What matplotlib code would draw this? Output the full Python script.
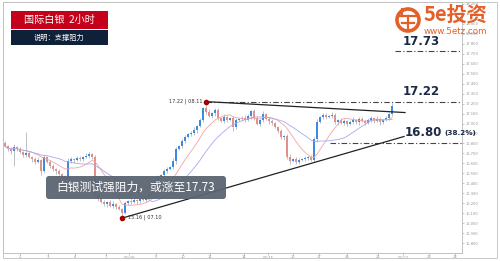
import matplotlib
matplotlib.use('Agg')
import matplotlib.pyplot as plt
from matplotlib.patches import FancyBboxPatch, Rectangle, Circle
from matplotlib.lines import Line2D
import numpy as np
import pandas as pd

plt.rcParams['font.family'] = ['Noto Sans CJK SC', 'DejaVu Sans']

# 2h candles, close prices
closes = [16.77, 16.74, 16.72, 16.76, 16.74, 16.71, 16.68, 16.70, 16.66, 16.64,
          16.61, 16.63, 16.52, 16.66, 16.61, 16.57, 16.54, 16.52, 16.49, 16.46,
          16.44, 16.62, 16.64, 16.63, 16.65, 16.64, 16.66, 16.67, 16.69, 16.66,
          16.29, 16.24, 16.21, 16.19, 16.21, 16.17, 16.19, 16.16, 16.14, 16.10,
          16.20, 16.22, 16.21, 16.23, 16.22, 16.24, 16.23, 16.26, 16.29, 16.32,
          16.41, 16.46, 16.48, 16.52, 16.54, 16.56, 16.62, 16.74, 16.77, 16.82,
          16.86, 16.89, 16.90, 16.93, 16.98, 17.04, 17.16, 17.12, 17.08, 17.11,
          17.14, 17.06, 17.03, 17.07, 17.04, 17.06, 16.96, 17.04, 17.05, 17.06,
          17.04, 17.08, 17.13, 17.06, 17.00, 17.04, 17.10, 17.05, 17.03, 17.01,
          16.96, 16.92, 16.86, 16.87, 16.66, 16.62, 16.64, 16.61, 16.63, 16.64,
          16.65, 16.66, 16.63, 16.84, 17.02, 17.07, 17.09, 17.07, 17.08, 17.09,
          17.02, 17.04, 17.01, 17.03, 17.00, 17.02, 17.04, 17.02, 17.05, 17.03,
          17.01, 17.04, 17.06, 17.03, 17.05, 17.02, 17.04, 17.06, 17.10, 17.18]
first_open = 16.80
# wick lengths in cents above / below the body
wick_hi = [2, 1, 2, 3, 1, 2, 1, 21, 2, 1,
           2, 3, 1, 2, 1, 2, 2, 1, 2, 1,
           2, 3, 2, 1, 2, 2, 1, 3, 2, 1,
           2, 1, 2, 2, 1, 2, 3, 1, 2, 1,
           2, 1, 3, 2, 1, 2, 2, 1, 2, 1,
           3, 2, 1, 2, 2, 1, 3, 2, 1, 2,
           2, 1, 2, 3, 1, 2, 1, 6, 3, 1,
           2, 2, 1, 3, 2, 1, 2, 2, 1, 2,
           3, 2, 1, 2, 2, 1, 3, 1, 2, 2,
           1, 2, 2, 1, 2, 3, 1, 2, 2, 1,
           2, 1, 2, 2, 3, 1, 2, 2, 1, 3,
           2, 1, 2, 2, 1, 2, 3, 1, 2, 2,
           1, 2, 2, 1, 3, 2, 1, 2, 2, 3]
wick_lo = [1, 2, 3, 15, 2, 1, 2, 2, 1, 3,
           2, 1, 4, 2, 1, 2, 2, 3, 1, 2,
           2, 1, 2, 3, 1, 2, 2, 1, 2, 2,
           4, 2, 1, 2, 3, 1, 2, 2, 1, 5,
           1, 2, 2, 1, 3, 2, 1, 2, 2, 1,
           2, 3, 1, 2, 2, 1, 2, 3, 1, 2,
           2, 1, 2, 2, 3, 1, 2, 2, 1, 2,
           3, 2, 1, 2, 2, 1, 4, 2, 1, 2,
           2, 1, 3, 2, 1, 2, 2, 1, 3, 2,
           1, 2, 2, 3, 2, 3, 1, 2, 2, 1,
           2, 2, 1, 2, 3, 1, 2, 2, 1, 2,
           2, 3, 1, 2, 2, 1, 2, 2, 3, 1,
           2, 1, 2, 2, 1, 3, 2, 1, 2, 2]

tick_pos = [5, 14.3, 23.3, 33.7, 41.3, 50.3, 59.3, 68.3, 79.7, 87.7,
            96, 104.7, 114, 124.3, 132.7, 141.3, 150]
tick_labels = ['2', '3', '4', '7', '03/08', '9', '10', '11', '14', '03/15',
               '16', '17', '18', '21', '03/22', '23', '24']

level_hi = 17.73
level_res = 17.22
level_sup = 16.80
peak_idx, peak_val = 67, 17.22
low_idx, low_val = 39, 16.05

closes = np.array(closes)
opens = np.array([first_open] + list(closes[:-1]))
highs = np.maximum(opens, closes) + np.array(wick_hi) / 100
lows = np.minimum(opens, closes) - np.array(wick_lo) / 100
idx = np.arange(len(closes))
ma_fast = pd.Series(closes).rolling(10, min_periods=1).mean()
ma_slow = pd.Series(closes).rolling(20, min_periods=1).mean()

fig = plt.figure(figsize=(5, 2.61), dpi=100)
ax = fig.add_axes([3 / 500, 8 / 261, 459 / 500, 251 / 261])
ax.set_xlim(-0.67, 152.3)
ax.set_ylim(15.70, 18.22)

up = closes >= opens
ax.vlines(idx, lows, highs, color='#b5b5b5', lw=0.6, zorder=2)
body = np.maximum(np.abs(closes - opens), 0.006)
ax.bar(idx[up], body[up], bottom=opens[up], width=0.68, color='#3d8be0', zorder=3)
ax.bar(idx[~up], body[~up], bottom=closes[~up], width=0.68, color='#df928c', zorder=3)
ax.plot(idx, ma_fast, color='#f3a3a3', lw=0.6, zorder=4)
ax.plot(idx, ma_slow, color='#a8a8ee', lw=0.6, zorder=4)

dd = (0, (5, 2, 1, 2))
ax.plot([130, 152.3], [level_hi, level_hi], color='#444444', lw=0.8, ls=dd, zorder=5)
ax.plot([peak_idx, 152.3], [level_res, level_res], color='#444444', lw=0.8, ls=dd, zorder=5)
ax.plot([108.3, 152.3], [level_sup, level_sup], color='#444444', lw=0.8, ls=dd, zorder=5)
ax.plot([peak_idx, 133.3], [peak_val, 17.11], color='#222222', lw=0.9, zorder=5)
ax.plot([low_idx, 133], [low_val, 16.87], color='#222222', lw=0.9, zorder=5)
ax.scatter([peak_idx, low_idx], [peak_val, low_val], s=9, color='#a00000', zorder=6)

ax.text(65.7, 17.22, '17.22 | 08.11', fontsize=3.6, color='#333333',
        ha='right', va='center', family='DejaVu Sans')
ax.text(41, 16.06, '15.16 | 07.10', fontsize=3.6, color='#333333',
        ha='left', va='center', family='DejaVu Sans')
ax.text(138.7, 17.82, '17.73', fontsize=8.5, fontweight='bold', color='#1c2b45',
        ha='center', va='center', family='DejaVu Sans')
ax.text(138.7, 17.32, '17.22', fontsize=8.5, fontweight='bold', color='#1c2b45',
        ha='center', va='center', family='DejaVu Sans')
ax.text(139.3, 16.91, '16.80', fontsize=8.5, fontweight='bold', color='#1c2b45',
        ha='center', va='center', family='DejaVu Sans')
ax.text(151.7, 16.905, '(38.2%)', fontsize=5.2, fontweight='bold', color='#1c2b45',
        ha='center', va='center', family='DejaVu Sans', clip_on=False, zorder=7)

ax.set_xticks(tick_pos)
ax.set_xticklabels(tick_labels)
yt = np.round(np.arange(15.8, 18.201, 0.1), 1)
ax.set_yticks(yt)
ax.set_yticklabels(['%.3f' % v for v in yt])
ax.yaxis.tick_right()
ax.tick_params(axis='y', labelsize=3, colors='#999999', length=1.5, width=0.4, pad=1.5)
ax.tick_params(axis='x', labelsize=3, colors='#999999', length=1.5, width=0.4, pad=0.3)
for s in ax.spines.values():
    s.set_color('#b8b8b8')
    s.set_linewidth(0.6)

# outer frame
fig.add_artist(Rectangle((0.03, 0.03), 4.94, 2.56, transform=fig.dpi_scale_trans,
                         fill=False, ec='#c0c0c0', lw=0.6))

# title boxes
fig.add_artist(Rectangle((0.11, 2.32), 0.97, 0.18, transform=fig.dpi_scale_trans,
                         fc='#c4001a', ec='none', zorder=8))
fig.text(0.595, 2.41, '国际白银  2小时', transform=fig.dpi_scale_trans, fontsize=7.3,
         color='white', ha='center', va='center', zorder=9)
fig.add_artist(Rectangle((0.11, 2.16), 0.97, 0.15, transform=fig.dpi_scale_trans,
                         fc='#0f2039', ec='none', zorder=8))
fig.text(0.595, 2.235, '说明：支撑阻力', transform=fig.dpi_scale_trans, fontsize=5.2,
         color='white', ha='center', va='center', zorder=9)

# comment box
fig.add_artist(FancyBboxPatch((0.46, 0.62), 1.80, 0.23, boxstyle='round,pad=0,rounding_size=0.03',
                              transform=fig.dpi_scale_trans, fc='#5b6472', ec='none',
                              alpha=0.95, zorder=8))
fig.text(1.36, 0.735, '白银测试强阻力，或涨至17.73', transform=fig.dpi_scale_trans,
         fontsize=8.5, color='white', ha='center', va='center', zorder=9)

# logo
orange = '#e4602a'
fig.add_artist(Circle((4.08, 2.41), 0.11, transform=fig.dpi_scale_trans,
                      fill=False, ec=orange, lw=2.6, zorder=8))
for xs, ys in [([4.00, 4.16], [2.45, 2.45]), ([4.02, 4.14], [2.38, 2.38]),
               ([4.08, 4.08], [2.45, 2.30]), ([4.02, 4.02], [2.45, 2.52])]:
    fig.add_artist(Line2D(xs, ys, transform=fig.dpi_scale_trans, color=orange,
                          lw=1.6, zorder=9))
fig.text(4.24, 2.47, '5e投资', transform=fig.dpi_scale_trans, fontsize=14.5,
         fontweight='bold', color=orange, ha='left', va='center', zorder=9)
fig.text(4.24, 2.29, 'www.5etz.com', transform=fig.dpi_scale_trans, fontsize=6.3,
         color=orange, ha='left', va='center', family='DejaVu Sans', zorder=9)

plt.savefig('out.png', dpi=100)
